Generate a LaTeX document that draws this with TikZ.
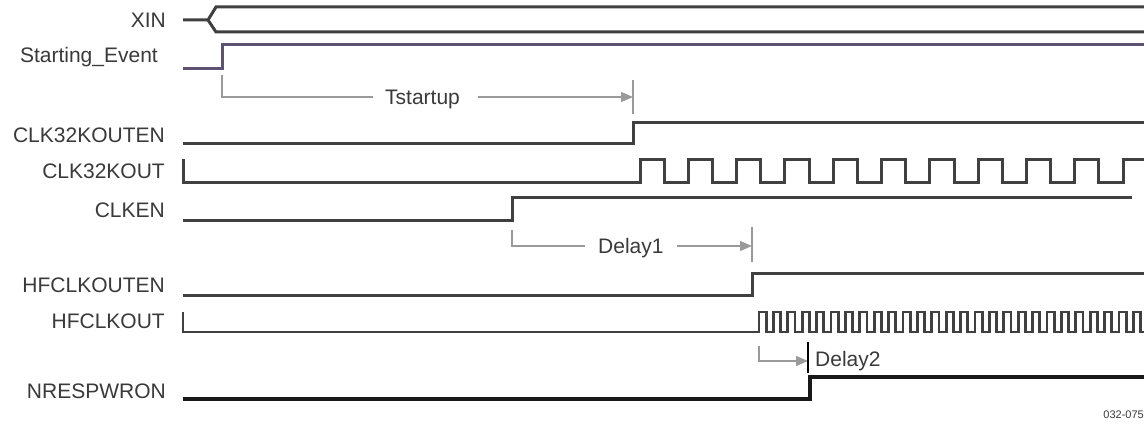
\documentclass[tikz,border=0pt]{standalone}
\usepackage{fontspec}
\setmainfont{Liberation Sans}
\usetikzlibrary{arrows.meta}
\definecolor{sig}{HTML}{404040}
\definecolor{evt}{HTML}{5E5274}
\definecolor{ann}{HTML}{9A9A9A}
\definecolor{txt}{HTML}{3A3A3A}
\tikzset{
  lbl/.style={anchor=base east, text=txt, inner sep=0pt, font=\fontsize{21}{24}\selectfont},
  anntext/.style={anchor=base west, text=txt, inner sep=0pt, font=\fontsize{21}{24}\selectfont},
  wave/.style={draw=sig, line width=3pt, line join=miter},
  evtwave/.style={draw=evt, line width=3pt, line join=miter},
  strong/.style={draw=black!90, line width=3.6pt, line join=miter},
  annline/.style={draw=ann, line width=1.2pt},
  annarrow/.style={draw=ann, line width=1.2pt, -{Triangle[length=12pt,width=10pt]}},
  tick/.style={draw=ann, line width=1.2pt},
}
\begin{document}
\begin{tikzpicture}[x=1pt,y=-1pt]
\clip (0,0) rectangle (1144,428);
\fill[white] (0,0) rectangle (1144,428);
% labels
\node[lbl] (lxin) at (166,28) {XIN};
\node[lbl] (lse) at (158,63) {Starting\_Event};
\node[lbl] (lc32en) at (165,142) {CLK32KOUTEN};
\node[lbl] (lc32) at (165,178) {CLK32KOUT};
\node[lbl] (lclken) at (165,217) {CLKEN};
\node[lbl] (lhfen) at (165,292) {HFCLKOUTEN};
\node[lbl] (lhf) at (165,328) {HFCLKOUT};
\node[lbl] (lnres) at (166,398) {NRESPWRON};
% XIN bus
\draw[wave] (183,20) -- (208,20) -- (216,7) -- (1150,7);
\draw[wave] (208,20) -- (216,32) -- (1150,32);
% Starting event
\draw[evtwave] (183,69) -- (222,69) -- (222,45) -- (1150,45);
% CLK32KOUTEN
\draw[wave] (183,143) -- (633,143) -- (633,122) -- (1150,122);
% CLK32KOUT
\draw[wave] (183,159) -- (183,182) foreach \k in {0,...,10} { -- ({640+48.3*\k},182) -- ({640+48.3*\k},159) -- ({664.2+48.3*\k},159) -- ({664.2+48.3*\k},182) } -- (1150,182);
% CLKEN
\draw[wave] (183,220) -- (512,220) -- (512,197) -- (1132,197);
% HFCLKOUTEN
\draw[wave] (183,295) -- (752,295) -- (752,273) -- (1150,273);
% HFCLKOUT
\draw[wave, line width=2.8pt] (183,312) -- (183,332) foreach \k in {0,...,26} { -- ({759+14.4*\k},332) -- ({759+14.4*\k},312) -- ({766.2+14.4*\k},312) -- ({766.2+14.4*\k},332) } -- (1150,332);
% NRESPWRON
\draw[strong] (183,399) -- (810,399) -- (810,377) -- (1150,377);
% Tstartup
\coordinate (ts0) at (222,75);
\coordinate (ts1) at (222,97);
\coordinate (ts2) at (373,97);
\node[anntext] (tst) at (385,104) {Tstartup};
\coordinate (ts3) at (478,97);
\coordinate (ts4) at (633,97);
\coordinate (tk1a) at (633,80);
\coordinate (tk1b) at (633,114);
\draw[annline] (ts0) -- (ts1) -- (ts2);
\draw[annarrow] (ts3) -- (ts4);
\draw[tick] (tk1a) -- (tk1b);
% Delay1
\coordinate (d10) at (512,230);
\coordinate (d11) at (512,246);
\coordinate (d12) at (585,246);
\node[anntext] (dl1) at (598,253) {Delay1};
\coordinate (d13) at (677,246);
\coordinate (d14) at (752,246);
\coordinate (tk2a) at (752,227);
\coordinate (tk2b) at (752,262);
\draw[annline] (d10) -- (d11) -- (d12);
\draw[annarrow] (d13) -- (d14);
\draw[tick] (tk2a) -- (tk2b);
% Delay2
\coordinate (d20) at (759,346);
\coordinate (d21) at (759,361);
\coordinate (d22) at (808,361);
\coordinate (tk3a) at (808,342);
\coordinate (tk3b) at (808,373);
\draw[annarrow] (d20) -- (d21) -- (d22);
\draw[draw=black, line width=1.2pt] (tk3a) -- (tk3b);
\node[anntext] (dl2) at (815,366) {Delay2};
% figure number
\node[anchor=base east, text=txt, inner sep=0pt, font=\fontsize{11}{13}\selectfont] (fig) at (1144,418) {032-075};
\end{tikzpicture}
\end{document}
